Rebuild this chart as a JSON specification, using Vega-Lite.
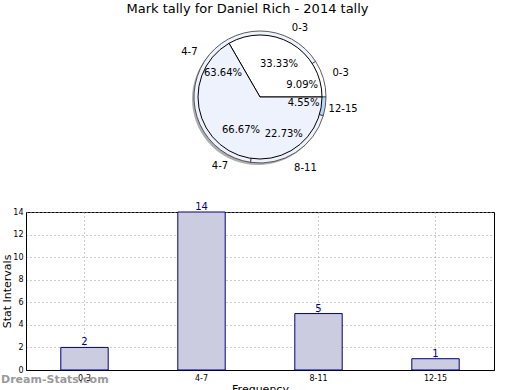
{
  "$schema": "https://vega.github.io/schema/vega-lite/v6.json",
  "padding": {"left": 0, "right": 0, "top": 3, "bottom": 0},
  "background": "white",
  "config": {
    "font": "DejaVu Sans",
    "view": {"stroke": null},
    "title": {"font": "DejaVu Sans", "fontWeight": "normal", "fontSize": 13, "color": "black"}
  },
  "title": {"text": "Mark tally for Daniel Rich - 2014 tally", "anchor": "middle", "offset": 6},
  "datasets": {
    "inner": [
      {"interval": "0-3", "count": 2, "k": 1},
      {"interval": "4-7", "count": 14, "k": 2},
      {"interval": "8-11", "count": 5, "k": 3},
      {"interval": "12-15", "count": 1, "k": 4}
    ],
    "outer": [
      {"interval": "0-3", "share": 33.33, "k": 1},
      {"interval": "4-7", "share": 66.67, "k": 2}
    ]
  },
  "spacing": 28,
  "vconcat": [
    {
      "width": 468,
      "height": 150,
      "view": {"stroke": null},
      "layer": [
        {
          "data": {"name": "outer"},
          "mark": {"type": "arc", "outerRadius": 66, "xOffset": -2, "yOffset": 2, "fill": "#777", "opacity": 0.6},
          "encoding": {
            "theta": {"field": "share", "type": "quantitative", "stack": "normalize", "scale": {"range": [1.5708, -4.7124]}},
            "order": {"field": "k", "type": "quantitative"}
          }
        },
        {
          "data": {"name": "inner"},
          "mark": {"type": "arc", "outerRadius": 66, "stroke": "#333", "strokeWidth": 0.8},
          "encoding": {
            "theta": {"field": "count", "type": "quantitative", "stack": "normalize"},
            "order": {"field": "k", "type": "quantitative"},
            "color": {"field": "interval", "type": "nominal", "legend": null,
              "scale": {"domain": ["0-3", "4-7", "8-11", "12-15"], "range": ["#ffffff", "#edf2fd", "#edf2fd", "#b8d5f8"]}}
          }
        },
        {
          "data": {"name": "outer"},
          "mark": {"type": "arc", "outerRadius": 62, "stroke": "black", "strokeWidth": 1},
          "encoding": {
            "theta": {"field": "share", "type": "quantitative", "stack": "normalize"},
            "order": {"field": "k", "type": "quantitative"},
            "color": {"field": "interval", "type": "nominal", "legend": null}
          }
        },
        {
          "data": {"name": "outer"},
          "transform": [{"calculate": "datum.share / 100", "as": "frac"}],
          "mark": {"type": "text", "radius": 38, "fontSize": 10, "color": "black"},
          "encoding": {
            "theta": {"field": "share", "type": "quantitative", "stack": "normalize"},
            "order": {"field": "k", "type": "quantitative"},
            "text": {"field": "frac", "type": "quantitative", "format": ".2%"}
          }
        },
        {
          "data": {"name": "outer"},
          "mark": {"type": "text", "radius": 80, "fontSize": 10, "color": "black"},
          "encoding": {
            "theta": {"field": "share", "type": "quantitative", "stack": "normalize"},
            "order": {"field": "k", "type": "quantitative"},
            "text": {"field": "interval", "type": "nominal"}
          }
        },
        {
          "data": {"name": "inner"},
          "transform": [
            {"joinaggregate": [{"op": "sum", "field": "count", "as": "total"}]},
            {"calculate": "datum.count / datum.total", "as": "frac"}
          ],
          "mark": {"type": "text", "radius": 44, "fontSize": 10, "color": "black"},
          "encoding": {
            "theta": {"field": "count", "type": "quantitative", "stack": "normalize"},
            "order": {"field": "k", "type": "quantitative"},
            "text": {"field": "frac", "type": "quantitative", "format": ".2%"}
          }
        },
        {
          "data": {"name": "inner"},
          "mark": {"type": "text", "radius": 84, "fontSize": 10, "color": "black"},
          "encoding": {
            "theta": {"field": "count", "type": "quantitative", "stack": "normalize"},
            "order": {"field": "k", "type": "quantitative"},
            "text": {"field": "interval", "type": "nominal"}
          }
        }
      ]
    },
    {
      "width": 468,
      "height": 158,
      "data": {"name": "inner"},
      "view": {"stroke": "black", "strokeWidth": 1},
      "title": {"text": "Dream-Stats.com", "orient": "bottom", "anchor": "start", "frame": "group", "fontSize": 11, "fontWeight": "bold", "color": "#9a9a9a", "offset": -20, "dx": -25},
      "encoding": {
        "x": {"field": "interval", "type": "nominal", "sort": ["0-3", "4-7", "8-11", "12-15"],
          "axis": {"labelAngle": 0, "labelFontSize": 8, "title": "Frequency", "titleFontSize": 11, "titleFontWeight": "normal",
            "grid": true, "gridDash": [1, 3], "gridColor": "#999", "domainColor": "black", "ticks": false, "labelPadding": 4, "titlePadding": 1}},
        "y": {"field": "count", "type": "quantitative", "scale": {"domain": [0, 14]},
          "axis": {"values": [0, 2, 4, 6, 8, 10, 12, 14], "tickCount": 8, "labelOverlap": false, "labelFontSize": 8, "title": "Stat Intervals", "titleFontSize": 11, "titleFontWeight": "normal",
            "gridDash": [1, 3], "gridColor": "#999", "domainColor": "black", "ticks": false, "labelPadding": 3, "titlePadding": 0}}
      },
      "layer": [
        {
          "mark": {"type": "bar", "fill": "#ccccE0", "stroke": "#000080", "strokeWidth": 1, "width": {"band": 0.45}}
        },
        {
          "mark": {"type": "text", "color": "#000080", "fontSize": 10, "baseline": "bottom", "dy": 0},
          "encoding": {
            "text": {"field": "count", "type": "quantitative"}
          }
        }
      ]
    }
  ]
}
